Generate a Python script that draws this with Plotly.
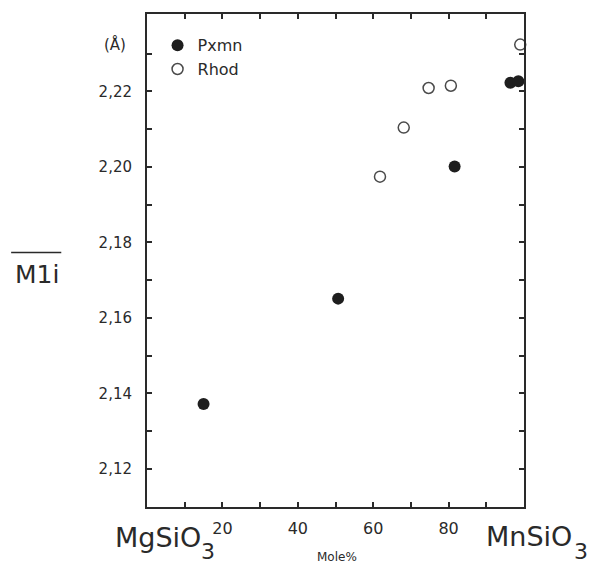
import plotly.graph_objects as go

# Mean M1-O distances (Å) against Mn mole% along MgSiO3–MnSiO3
pxmn_x = [15.0, 50.7, 81.6, 96.4, 98.5]
pxmn_y = [2.1372, 2.1651, 2.2001, 2.2223, 2.2227]

rhod_x = [61.8, 68.1, 74.7, 80.6, 99.0]
rhod_y = [2.1974, 2.2104, 2.2209, 2.2215, 2.2324]

x_tickvals = [10, 20, 30, 40, 50, 60, 70, 80, 90]
x_ticktext = ["", "20", "", "40", "", "60", "", "80", ""]
y_tickvals = [2.12, 2.13, 2.14, 2.15, 2.16, 2.17, 2.18, 2.19, 2.20, 2.21, 2.22, 2.23]
y_ticktext = ["2,12", "", "2,14", "", "2,16", "", "2,18", "", "2,20", "", "2,22", ""]

FONT = "DejaVu Sans"
INK = "#2a2a2a"

fig = go.Figure()
fig.add_trace(go.Scatter(
    x=pxmn_x, y=pxmn_y, mode="markers", name="Pxmn",
    marker=dict(symbol="circle", size=12, color="#1e1e1e",
                line=dict(width=0)),
    cliponaxis=False,
))
fig.add_trace(go.Scatter(
    x=rhod_x, y=rhod_y, mode="markers", name="Rhod",
    marker=dict(symbol="circle-open", size=11, color="#4a4a4a",
                line=dict(width=1.5, color="#4a4a4a")),
    cliponaxis=False,
))

axis_common = dict(
    showline=True, linewidth=2, linecolor=INK, mirror="ticks",
    ticks="inside", ticklen=5, tickwidth=1.5, tickcolor=INK,
    showgrid=False, zeroline=False,
)

fig.update_xaxes(
    range=[0, 100], tickmode="array", tickvals=x_tickvals, ticktext=x_ticktext,
    tickfont=dict(family=FONT, size=16, color=INK), ticklabelstandoff=6,
    **axis_common,
)
fig.update_yaxes(
    range=[2.1099, 2.2405], tickmode="array", tickvals=y_tickvals, ticktext=y_ticktext,
    tickfont=dict(family=FONT, size=15, color=INK), ticklabelstandoff=10,
    **axis_common,
)

# End-member labels, axis quantity and unit
def label(text, x, y, size, xanchor="center"):
    fig.add_annotation(text=text, x=x, y=y, xref="paper", yref="paper",
                       xanchor=xanchor, yanchor="middle", showarrow=False,
                       borderpad=0,
                       font=dict(family=FONT, size=size, color=INK))

PW, PH, L, T = 376.0, 492.0, 147.5, 14.5
px = lambda v: (v - L) / PW
py = lambda v: 1 - (v - T) / PH

label("MgSiO", px(158), py(536.5), 27)
label("3", px(208), py(550.5), 22)
label("MnSiO", px(528), py(535.5), 27)
label("3", px(580), py(551), 22)
label("Mole%", px(337), py(556), 12)
label("M1i", px(37.5), py(274), 25)
label("(Å)", px(116), py(45), 15)

fig.add_shape(type="line", xref="paper", yref="paper",
              x0=px(12), x1=px(62), y0=py(252.5), y1=py(252.5),
              line=dict(color=INK, width=1.5))

fig.update_layout(
    width=592, height=564,
    margin=dict(l=147, r=68, t=14, b=57),
    paper_bgcolor="white", plot_bgcolor="white",
    showlegend=True,
    legend=dict(x=0.028, y=0.971, xanchor="left", yanchor="top",
                bgcolor="rgba(0,0,0,0)",
                font=dict(family=FONT, size=16, color=INK),
                tracegroupgap=0),
)

fig.write_html("out.html")
